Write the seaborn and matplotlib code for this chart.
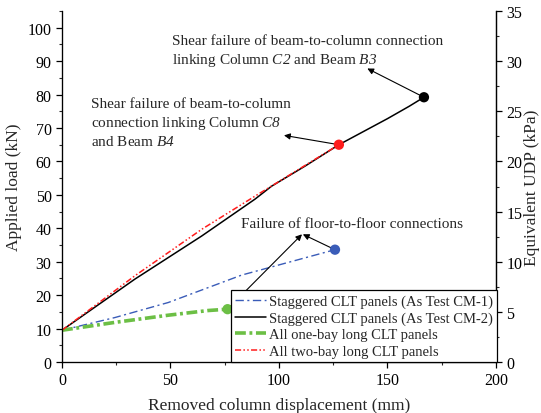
import matplotlib
matplotlib.use("Agg")
import matplotlib.pyplot as plt
from matplotlib.ticker import MultipleLocator
import seaborn as sns
import pandas as pd

# Load-displacement curves (removed column displacement in mm, applied load in kN)
cm1_disp = [0, 24.4, 49.0, 82.8, 125.8]
cm1_load = [9.5, 13.3, 17.8, 26.0, 33.6]

cm2_disp = [0, 33.6, 64.4, 88.9, 96.6, 112.0, 127.6, 150.0, 160.0, 166.8]
cm2_load = [9.5, 24.8, 37.7, 48.7, 52.6, 58.6, 65.0, 72.8, 76.5, 79.2]

onebay_disp = [0, 24.4, 49.0, 67.4, 76.3]
onebay_load = [9.5, 11.85, 14.0, 15.4, 15.8]

twobay_disp = [0, 33.6, 64.4, 88.9, 100.0, 112.0, 127.6]
twobay_load = [9.5, 25.8, 39.7, 49.6, 54.0, 58.8, 65.0]

series_labels = [
    "Staggered CLT panels (As Test CM-1)",
    "Staggered CLT panels (As Test CM-2)",
    "All one-bay long CLT panels",
    "All two-bay long CLT panels",
]

sns.set_style("ticks")
plt.rcParams["font.family"] = ["Liberation Serif", "DejaVu Serif"]
# math segments are only used for the italic member names
plt.rcParams["mathtext.fontset"] = "custom"
plt.rcParams["mathtext.rm"] = "Liberation Serif:italic"
plt.rcParams["mathtext.it"] = "Liberation Serif:italic"
plt.rcParams["xtick.direction"] = "out"
plt.rcParams["ytick.direction"] = "out"

fig = plt.figure(figsize=(5.41, 4.14), dpi=100)
ax = fig.add_axes([0.1146, 0.1232, 0.8022, 0.8478])

blue = "#3a5cb8"
green = "#6cbf45"
red = "#ff1c1c"

def curve(x, y):
    return pd.DataFrame({"disp": x, "load": y})

sns.lineplot(data=curve(cm1_disp, cm1_load), x="disp", y="load", sort=False,
             ax=ax, color=blue, lw=1.0, linestyle=(0, (6, 2.5, 1.5, 2.5)),
             label=series_labels[0])
sns.lineplot(data=curve(cm2_disp, cm2_load), x="disp", y="load", sort=False,
             ax=ax, color="black", lw=1.1, label=series_labels[1])
sns.lineplot(data=curve(onebay_disp, onebay_load), x="disp", y="load", sort=False,
             ax=ax, color=green, lw=2.6, linestyle=(0, (3.0, 1.0, 0.8, 1.0)),
             label=series_labels[2])
sns.lineplot(data=curve(twobay_disp, twobay_load), x="disp", y="load", sort=False,
             ax=ax, color=red, lw=1.1, linestyle=(0, (4, 1.5, 1, 1.5, 1, 1.5)),
             label=series_labels[3])

# Failure points at the end of each curve
ends = pd.DataFrame({
    "disp": [cm1_disp[-1], cm2_disp[-1], onebay_disp[-1], twobay_disp[-1]],
    "load": [cm1_load[-1], cm2_load[-1], onebay_load[-1], twobay_load[-1]],
})
sns.scatterplot(data=ends, x="disp", y="load", ax=ax,
                color=[blue, "black", green, red], s=55, edgecolor="none",
                zorder=5, legend=False)

ax.set_xlim(0, 200)
ax.set_ylim(0, 105)
ax.xaxis.set_major_locator(MultipleLocator(50))
ax.xaxis.set_minor_locator(MultipleLocator(25))
ax.yaxis.set_major_locator(MultipleLocator(10))
ax.yaxis.set_minor_locator(MultipleLocator(5))
ax.set_xlabel("Removed column displacement (mm)", fontsize=12.5, labelpad=6)
ax.set_ylabel("Applied load (kN)", fontsize=12.5, labelpad=4)
ax.tick_params(which="major", length=4, width=0.9, labelsize=11.5, colors="black")
ax.tick_params(which="minor", length=2.5, width=0.8)
ax.spines["top"].set_visible(False)
for s in ["left", "bottom", "right"]:
    ax.spines[s].set_linewidth(0.9)
    ax.spines[s].set_color("black")

# Equivalent uniformly distributed pressure on the right axis
ax2 = ax.twinx()
ax2.set_ylim(0, 35)
ax2.yaxis.set_major_locator(MultipleLocator(5))
ax2.yaxis.set_minor_locator(MultipleLocator(2.5))
ax2.set_ylabel("Equivalent UDP (kPa)", fontsize=12.5, labelpad=1)
ax2.tick_params(which="major", length=4, width=0.9, labelsize=11.5, colors="black")
ax2.tick_params(which="minor", length=2.5, width=0.8)
ax2.spines["top"].set_visible(False)
ax2.spines["right"].set_linewidth(0.9)

arrow = dict(arrowstyle="-|>", color="black", lw=0.8, mutation_scale=9,
             shrinkA=0, shrinkB=0)
tfont = 11

ax.annotate("", xy=(140.7, 87.8), xytext=(cm2_disp[-1], cm2_load[-1]), arrowprops=arrow)
ax.text(50.5, 93.1,
        "Shear failure of beam-to-column connection\n"
        "linking Column $\\mathrm{C2}$ and Beam $\\mathrm{B3}$",
        fontsize=tfont, ha="left", va="center", linespacing=1.3)

ax.annotate("", xy=(102.3, 67.8), xytext=(twobay_disp[-1], twobay_load[-1]), arrowprops=arrow)
ax.text(13.3, 71.6,
        "Shear failure of beam-to-column\n"
        "connection linking Column $\\mathrm{C8}$\n"
        "and Beam $\\mathrm{B4}$",
        fontsize=tfont, ha="left", va="center", linespacing=1.3)

ax.annotate("", xy=(110.6, 38.2), xytext=(onebay_disp[-1], onebay_load[-1]), arrowprops=arrow)
ax.annotate("", xy=(111.0, 38.2), xytext=(cm1_disp[-1], cm1_load[-1]), arrowprops=arrow)
ax.text(82.5, 41.3, "Failure of floor-to-floor connections",
        fontsize=tfont, ha="left", va="center")

leg = ax.legend(loc="lower right", bbox_to_anchor=(1.003, 0.0), borderaxespad=0,
                fontsize=10.5, frameon=True, fancybox=False, handlelength=2.1,
                handletextpad=0.2, labelspacing=0.22, borderpad=0.3)
leg.get_frame().set_edgecolor("black")
leg.get_frame().set_linewidth(0.9)
leg.get_frame().set_alpha(1)
leg.set_zorder(10)
ax.set_zorder(ax2.get_zorder() + 1)
ax.patch.set_visible(False)

fig.savefig("out.png", dpi=100)
